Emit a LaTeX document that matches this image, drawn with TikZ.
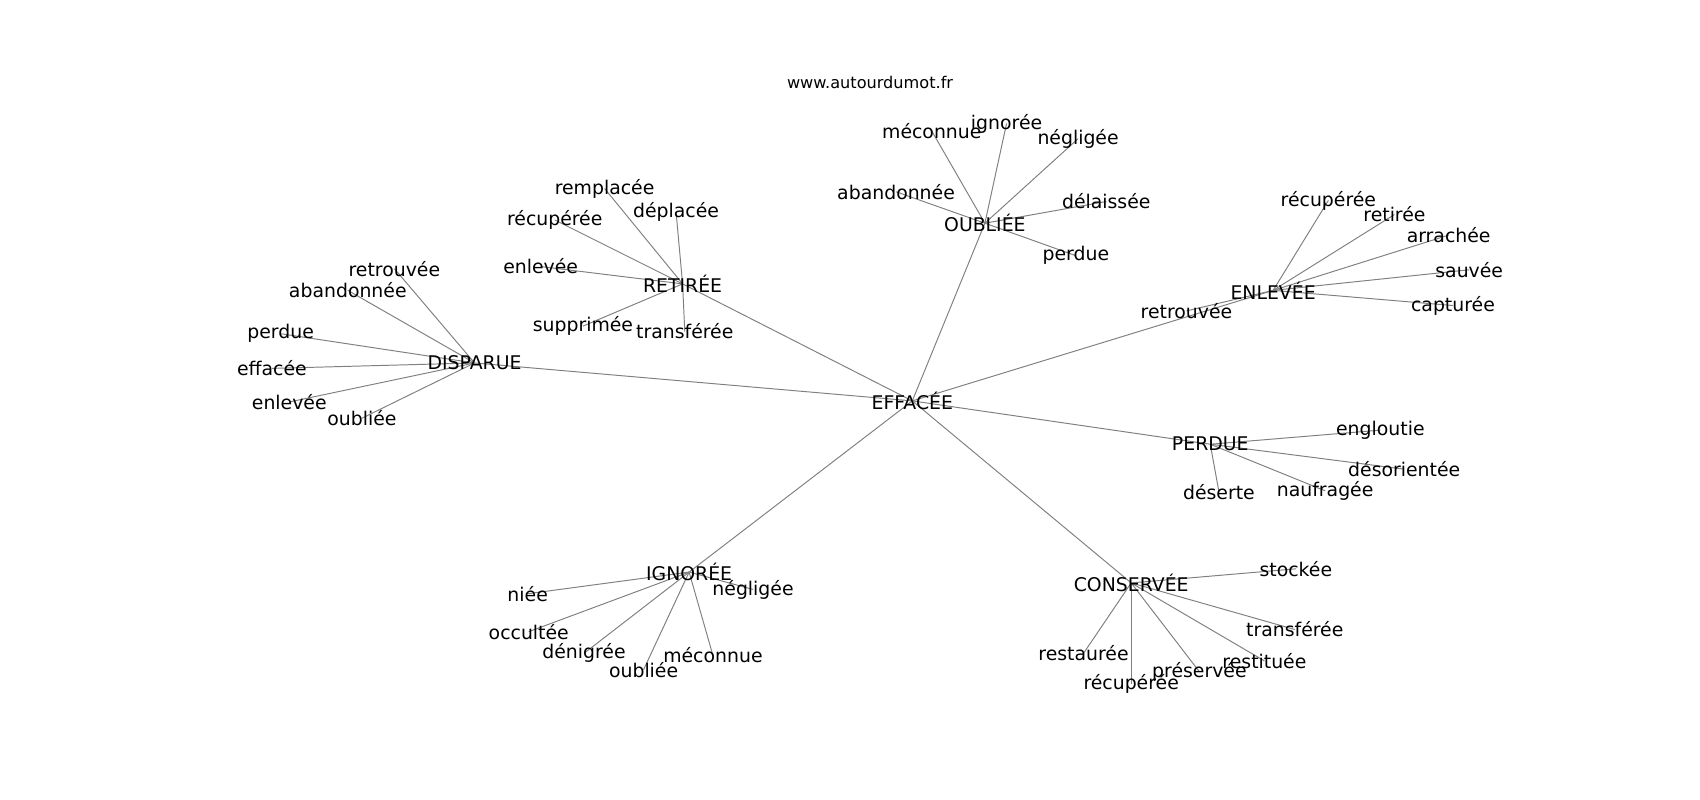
\documentclass[tikz,border=0pt]{standalone}
\usepackage{fontspec}
\setmainfont{DejaVu Sans}
\usepackage{xcolor}
\usepackage{tikz}
\usetikzlibrary{backgrounds}
\definecolor{edgegray}{RGB}{128,128,128}

\begin{document}
\begin{tikzpicture}[x=1pt,y=-1pt,
  word/.style={inner sep=0pt,font=\fontsize{17.4}{20}\selectfont},
  edge/.style={-,color=edgegray,line width=0.9pt}]
\useasboundingbox (0,0) rectangle (1569,738);
\node[inner sep=0pt,font=\fontsize{14.9}{18}\selectfont] (site) at (803,76) {www.autourdumot.fr};
\node[word] (effacee) at (842,370) {EFFACÉE};
\node[word] (oubliee) at (909,206) {OUBLIÉE};
\node[word] (retiree) at (630,262) {RETIRÉE};
\node[word] (disparue) at (438,335) {DISPARUE};
\node[word] (enlevee) at (1175,268) {ENLEVÉE};
\node[word] (perdue) at (1117,410) {PERDUE};
\node[word] (conservee) at (1044,538) {CONSERVÉE};
\node[word] (ignoree) at (636,528) {IGNORÉE};
\node[word] (o-meconnue) at (860,121) {méconnue};
\node[word] (o-ignoree) at (929,114) {ignorée};
\node[word] (o-negligee) at (995,128) {négligée};
\node[word] (o-abandonnee) at (827,177) {abandonnée};
\node[word] (o-delaissee) at (1021,186) {délaissée};
\node[word] (o-perdue) at (993,236) {perdue};
\node[word] (r-remplacee) at (558,174) {remplacée};
\node[word] (r-deplacee) at (624,196) {déplacée};
\node[word] (r-recuperee) at (512,203) {récupérée};
\node[word] (r-enlevee) at (499,246) {enlevée};
\node[word] (r-supprimee) at (538,301) {supprimée};
\node[word] (r-transferee) at (632,306) {transférée};
\node[word] (d-retrouvee) at (364,248) {retrouvée};
\node[word] (d-abandonnee) at (321,268) {abandonnée};
\node[word] (d-perdue) at (259,308) {perdue};
\node[word] (d-effacee) at (251,340) {effacée};
\node[word] (d-enlevee) at (267,371) {enlevée};
\node[word] (d-oubliee) at (334,386) {oubliée};
\node[word] (e-recuperee) at (1226,185) {récupérée};
\node[word] (e-retiree) at (1287,198) {retirée};
\node[word] (e-arrachee) at (1337,217) {arrachée};
\node[word] (e-sauvee) at (1356,249) {sauvée};
\node[word] (e-capturee) at (1341,282) {capturée};
\node[word] (e-retrouvee) at (1095,287) {retrouvée};
\node[word] (p-engloutie) at (1274,397) {engloutie};
\node[word] (p-desorientee) at (1296,433) {désorientée};
\node[word] (p-naufragee) at (1223,453) {naufragée};
\node[word] (p-deserte) at (1125,454) {déserte};
\node[word] (i-niee) at (487,548) {niée};
\node[word] (i-occultee) at (488,583) {occultée};
\node[word] (i-denigree) at (539,603) {dénigrée};
\node[word] (i-oubliee) at (594,618) {oubliée};
\node[word] (i-meconnue) at (658,605) {méconnue};
\node[word] (i-negligee) at (695,544) {négligée};
\node[word] (c-stockee) at (1196,525) {stockée};
\node[word] (c-transferee) at (1195,581) {transférée};
\node[word] (c-restituee) at (1167,610) {restituée};
\node[word] (c-preservee) at (1107,620) {préservée};
\node[word] (c-recuperee) at (1044,631) {récupérée};
\node[word] (c-restauree) at (1000,603) {restaurée};
\begin{scope}[on background layer]
\draw[edge] (effacee.center) to (oubliee.center);
\draw[edge] (effacee.center) to (retiree.center);
\draw[edge] (effacee.center) to (disparue.center);
\draw[edge] (effacee.center) to (enlevee.center);
\draw[edge] (effacee.center) to (perdue.center);
\draw[edge] (effacee.center) to (conservee.center);
\draw[edge] (effacee.center) to (ignoree.center);
\draw[edge] (oubliee.center) to (o-meconnue.center);
\draw[edge] (oubliee.center) to (o-ignoree.center);
\draw[edge] (oubliee.center) to (o-negligee.center);
\draw[edge] (oubliee.center) to (o-abandonnee.center);
\draw[edge] (oubliee.center) to (o-delaissee.center);
\draw[edge] (oubliee.center) to (o-perdue.center);
\draw[edge] (retiree.center) to (r-remplacee.center);
\draw[edge] (retiree.center) to (r-deplacee.center);
\draw[edge] (retiree.center) to (r-recuperee.center);
\draw[edge] (retiree.center) to (r-enlevee.center);
\draw[edge] (retiree.center) to (r-supprimee.center);
\draw[edge] (retiree.center) to (r-transferee.center);
\draw[edge] (disparue.center) to (d-retrouvee.center);
\draw[edge] (disparue.center) to (d-abandonnee.center);
\draw[edge] (disparue.center) to (d-perdue.center);
\draw[edge] (disparue.center) to (d-effacee.center);
\draw[edge] (disparue.center) to (d-enlevee.center);
\draw[edge] (disparue.center) to (d-oubliee.center);
\draw[edge] (enlevee.center) to (e-recuperee.center);
\draw[edge] (enlevee.center) to (e-retiree.center);
\draw[edge] (enlevee.center) to (e-arrachee.center);
\draw[edge] (enlevee.center) to (e-sauvee.center);
\draw[edge] (enlevee.center) to (e-capturee.center);
\draw[edge] (enlevee.center) to (e-retrouvee.center);
\draw[edge] (perdue.center) to (p-engloutie.center);
\draw[edge] (perdue.center) to (p-desorientee.center);
\draw[edge] (perdue.center) to (p-naufragee.center);
\draw[edge] (perdue.center) to (p-deserte.center);
\draw[edge] (ignoree.center) to (i-niee.center);
\draw[edge] (ignoree.center) to (i-occultee.center);
\draw[edge] (ignoree.center) to (i-denigree.center);
\draw[edge] (ignoree.center) to (i-oubliee.center);
\draw[edge] (ignoree.center) to (i-meconnue.center);
\draw[edge] (ignoree.center) to (i-negligee.center);
\draw[edge] (conservee.center) to (c-stockee.center);
\draw[edge] (conservee.center) to (c-transferee.center);
\draw[edge] (conservee.center) to (c-restituee.center);
\draw[edge] (conservee.center) to (c-preservee.center);
\draw[edge] (conservee.center) to (c-recuperee.center);
\draw[edge] (conservee.center) to (c-restauree.center);
\end{scope}
\end{tikzpicture}
\end{document}
